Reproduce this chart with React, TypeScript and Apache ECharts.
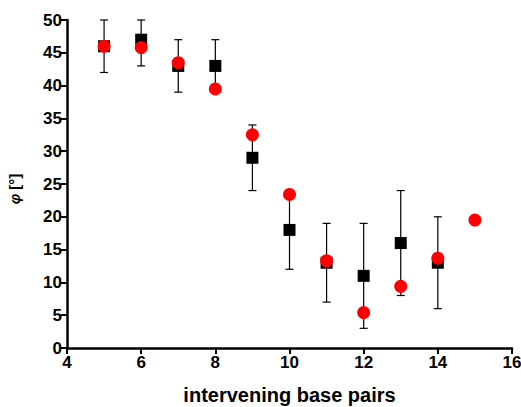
import React, { useEffect, useRef } from "react";
import * as echarts from "echarts";

const xTicks = [4, 6, 8, 10, 12, 14, 16];
const yTicks = [0, 5, 10, 15, 20, 25, 30, 35, 40, 45, 50];
const blackX = [5, 6, 7, 8, 9, 10, 11, 12, 13, 14];
const blackMean = [46, 47, 43, 43, 29, 18, 13, 11, 16, 13];
const blackLow = [42, 43, 39, 39, 24, 12, 7, 3, 8, 6];
const blackHigh = [50, 50, 47, 47, 34, 24, 19, 19, 24, 20];
const redX = [5, 6, 7, 8, 9, 10, 11, 12, 13, 14, 15];
const redY = [46, 45.8, 43.5, 39.5, 32.5, 23.4, 13.3, 5.4, 9.4, 13.7, 19.5];

export default function App() {
  const ref = useRef<HTMLDivElement>(null);
  useEffect(() => {
    if (!ref.current) return;
    const chart = echarts.init(ref.current, null, { renderer: "svg" });
    const font = "Liberation Sans, Arial, sans-serif";
    const errData = blackX.map((x, i) => [x, blackLow[i], blackHigh[i]]);
    chart.setOption({
      animation: false,
      grid: { left: 67, right: 9, top: 20, bottom: 59, outerBoundsMode: "none", containLabel: false },
      xAxis: {
        type: "value",
        min: xTicks[0],
        max: xTicks[xTicks.length - 1],
        interval: 2,
        name: "intervening base pairs",
        nameLocation: "middle",
        nameGap: 37,
        nameTextStyle: { fontFamily: font, fontWeight: "bold", fontSize: 20, color: "#000" },
        axisLine: { show: true, onZero: false, lineStyle: { color: "#000", width: 2.5 } },
        axisTick: { show: true, inside: false, length: 6, lineStyle: { color: "#000", width: 2 } },
        axisLabel: { fontFamily: font, fontWeight: "bold", fontSize: 17, color: "#000", margin: 6 },
        splitLine: { show: false },
      },
      yAxis: {
        type: "value",
        min: yTicks[0],
        max: yTicks[yTicks.length - 1],
        interval: 5,
        name: "{i|φ} [°]",
        nameLocation: "middle",
        nameGap: 45,
        nameRotate: 90,
        nameTextStyle: {
          fontFamily: font,
          fontWeight: "bold",
          fontSize: 15,
          color: "#000",
          padding: [0, 10, 0, 0],
          rich: { i: { fontStyle: "italic", fontWeight: "bold", fontSize: 15, fontFamily: font } },
        },
        axisLine: { show: true, lineStyle: { color: "#000", width: 2.5 } },
        axisTick: { show: true, inside: false, length: 6, lineStyle: { color: "#000", width: 2 } },
        axisLabel: { fontFamily: font, fontWeight: "bold", fontSize: 17, color: "#000", margin: 5 },
        splitLine: { show: false },
      },
      series: [
        {
          type: "custom",
          data: errData,
          z: 1,
          renderItem: (params: any, api: any) => {
            const x = api.value(0);
            const lo = api.coord([x, api.value(1)]);
            const hi = api.coord([x, api.value(2)]);
            const w = 4;
            const style = { stroke: "#000", lineWidth: 1.2 };
            return {
              type: "group",
              children: [
                { type: "line", shape: { x1: lo[0], y1: lo[1], x2: hi[0], y2: hi[1] }, style },
                { type: "line", shape: { x1: lo[0] - w, y1: lo[1], x2: lo[0] + w, y2: lo[1] }, style },
                { type: "line", shape: { x1: hi[0] - w, y1: hi[1], x2: hi[0] + w, y2: hi[1] }, style },
              ],
            };
          },
        },
        {
          type: "scatter",
          data: blackX.map((x, i) => [x, blackMean[i]]),
          symbol: "rect",
          symbolSize: 12,
          itemStyle: { color: "#000", opacity: 1 },
          z: 2,
        },
        {
          type: "scatter",
          data: redX.map((x, i) => [x, redY[i]]),
          symbol: "circle",
          symbolSize: 13,
          itemStyle: { color: "#ff0000", opacity: 1 },
          z: 3,
        },
      ],
    });
    return () => chart.dispose();
  }, []);
  return (
    <div
      ref={ref}
      style={{ position: "absolute", left: 0, top: 0, width: 521, height: 407, background: "#fff" }}
    />
  );
}
